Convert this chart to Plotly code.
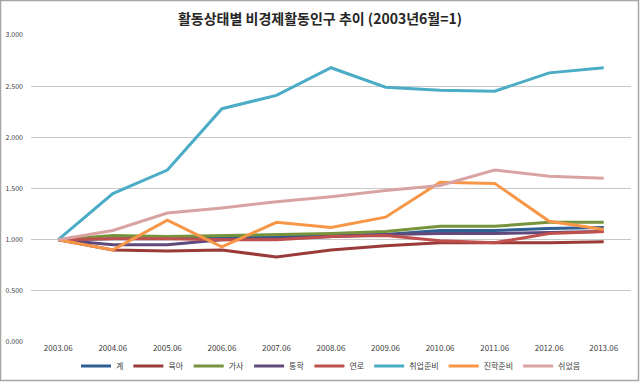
import plotly.graph_objects as go

categories = ["2003.06", "2004.06", "2005.06", "2006.06", "2007.06", "2008.06",
              "2009.06", "2010.06", "2011.06", "2012.06", "2013.06"]

total      = [1.00, 1.01, 1.01, 1.02, 1.03, 1.04, 1.05, 1.09, 1.09, 1.11, 1.12]   # 계
childcare  = [1.00, 0.90, 0.89, 0.90, 0.83, 0.90, 0.94, 0.97, 0.97, 0.97, 0.98]   # 육아
housework  = [1.00, 1.04, 1.03, 1.04, 1.05, 1.06, 1.08, 1.13, 1.13, 1.17, 1.17]   # 가사
school     = [1.00, 0.95, 0.95, 1.00, 1.01, 1.03, 1.05, 1.06, 1.06, 1.07, 1.08]   # 통학
elderly    = [1.00, 1.01, 1.01, 1.00, 1.00, 1.03, 1.04, 0.99, 0.97, 1.06, 1.08]   # 연로
job_prep   = [1.00, 1.45, 1.68, 2.28, 2.41, 2.68, 2.49, 2.46, 2.45, 2.63, 2.68]   # 취업준비
study_prep = [1.00, 0.90, 1.19, 0.93, 1.17, 1.12, 1.22, 1.56, 1.55, 1.18, 1.10]   # 진학준비
rested     = [1.00, 1.09, 1.26, 1.31, 1.37, 1.42, 1.48, 1.53, 1.68, 1.62, 1.60]   # 쉬었음

series_names = ["계", "육아", "가사", "통학", "연로", "취업준비", "진학준비", "쉬었음"]
series_values = [total, childcare, housework, school, elderly, job_prep, study_prep, rested]
colors = ["#2F5F93", "#9A3B3A", "#77933C", "#604A7B", "#C0504D", "#4BACC6", "#F79646", "#D9A3A3"]

y_ticks = [0, 0.5, 1.0, 1.5, 2.0, 2.5, 3.0]
y_tick_text = ["0.000", "0.500", "1.000", "1.500", "2.000", "2.500", "3.000"]

fig = go.Figure()
for name, vals, col in zip(series_names, series_values, colors):
    fig.add_trace(go.Scatter(x=categories, y=vals, mode="lines", name=name,
                             line=dict(color=col, width=3)))

font_family = "Noto Sans CJK KR, Noto Sans, sans-serif"
fig.update_layout(
    width=640, height=382,
    paper_bgcolor="white", plot_bgcolor="white",
    margin=dict(l=31, r=9, t=35, b=40, autoexpand=False),
    title=dict(text="<b>활동상태별 비경제활동인구 추이 (2003년6월=1)</b>",
               x=0.5, xanchor="center", y=1 - 19 / 382, yanchor="middle",
               font=dict(family=font_family, size=14, color="#262626")),
    font=dict(family=font_family, size=8, color="#404040"),
    xaxis=dict(type="category", range=[-0.5, 10.5], showgrid=False, showline=False,
               ticks="", tickfont=dict(size=8, color="#404040"), zeroline=False,
               automargin=False),
    yaxis=dict(range=[0, 3], tickvals=y_ticks, ticktext=y_tick_text,
               showgrid=True, gridcolor="#C8C8C8", gridwidth=1, zeroline=False,
               showline=False, ticks="", tickfont=dict(size=7, color="#404040"),
               automargin=False, ticklabelstandoff=7),
    showlegend=True,
    legend=dict(orientation="h", x=0.5, xanchor="center", y=-0.078, yanchor="middle",
                font=dict(size=8, color="#404040"), itemwidth=30, tracegroupgap=0,
                bgcolor="rgba(0,0,0,0)"),
    shapes=[dict(type="rect", xref="paper", yref="paper",
                 x0=(0.5 - 31) / 600, x1=(638.5 - 31) / 600,
                 y0=(342 - 380.5) / 307, y1=(342 - 0.5) / 307,
                 line=dict(color="#A6A6A6", width=1.5), fillcolor="rgba(0,0,0,0)")],
)

fig.write_html("out.html", config={"displayModeBar": False},
               post_script="document.body.style.margin='0';document.body.style.overflow='hidden';")
